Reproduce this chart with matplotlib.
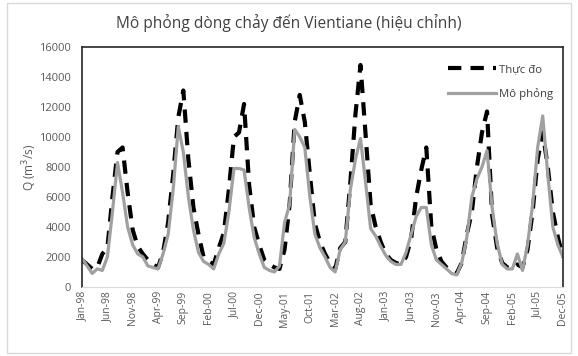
import numpy as np
import matplotlib.pyplot as plt
from matplotlib.patches import Rectangle

plt.rcParams['font.family'] = ['Open Sans', 'DejaVu Sans']

# Nhãn trục hoành (mỗi 5 tháng)
nhan_thang = ['Jan-98', 'Jun-98', 'Nov-98', 'Apr-99', 'Sep-99', 'Feb-00', 'Jul-00',
              'Dec-00', 'May-01', 'Oct-01', 'Mar-02', 'Aug-02', 'Jan-03', 'Jun-03',
              'Nov-03', 'Apr-04', 'Sep-04', 'Feb-05', 'Jul-05', 'Dec-05']

# Lưu lượng thực đo (m3/s), theo tháng 1/1998 - 12/2005
thuc_do = [1800, 1500, 1200, 1300, 2200, 2600, 6000, 9000, 9300, 6300, 3800, 2700,
           2200, 1800, 1500, 1300, 2300, 4300, 7500, 11300, 13100, 8500, 5300, 3500,
           2000, 1700, 1500, 2600, 3600, 6500, 10000, 10300, 12200, 6800, 4000, 2800,
           1800, 1500, 1300, 1200, 2500, 5500, 11000, 12800, 11000, 7500, 4200, 3000,
           2200, 1600, 1200, 2600, 3000, 7000, 11500, 14800, 10200, 5500, 4000, 3000,
           2200, 1800, 1600, 1500, 2000, 3200, 6000, 7800, 9300, 4000, 2500, 1700,
           1300, 1000, 900, 1600, 3500, 5000, 8000, 10300, 11700, 4800, 2600, 1600,
           1300, 1200, 1500, 1300, 2500, 5000, 8500, 10300, 8000, 5000, 3300, 2000]

# Lưu lượng mô phỏng (m3/s)
mo_phong = [1900, 1400, 900, 1200, 1100, 2000, 5000, 8300, 6300, 4000, 2800, 2200,
            2000, 1400, 1300, 1200, 2200, 3500, 6500, 10700, 9000, 6000, 3800, 2300,
            1700, 1500, 1200, 2200, 2900, 5000, 7900, 7900, 7800, 5300, 3300, 2200,
            1300, 1100, 1000, 1400, 4300, 5500, 10500, 10000, 9300, 6000, 3500, 2600,
            2000, 1300, 1000, 2500, 3000, 6500, 8500, 9900, 7000, 3900, 3400, 2700,
            2100, 1700, 1500, 1500, 2300, 3500, 4700, 5300, 5300, 2800, 1800, 1500,
            1200, 900, 800, 1600, 3300, 6000, 7200, 8000, 9100, 5300, 2900, 1500,
            1200, 1200, 2200, 1100, 2800, 5500, 9300, 11400, 7500, 4000, 2800, 2000]

thang = np.arange(len(thuc_do))

fig = plt.figure(figsize=(5.78, 3.56), dpi=100)
ax = fig.add_axes([0.142, 0.194, 0.832, 0.674])

ax.plot(thang, thuc_do, color='black', linewidth=3, dashes=(3.2, 2.2),
        label='Thực đo')
ax.plot(thang, mo_phong, color='#a0a0a0', linewidth=2.3, label='Mô phỏng')

ax.set_xlim(0, len(thang) - 1)
ax.set_ylim(0, 16000)
ax.set_yticks(np.arange(0, 16001, 2000))
ax.set_xticks(thang[::5])
ax.set_xticklabels(nhan_thang, rotation=90, fontsize=7.5, color='#595959')
ax.tick_params(axis='y', labelsize=8, colors='#595959', length=0, pad=8)
ax.tick_params(axis='x', length=0, pad=3)

for lado in ['left', 'top', 'right']:
    ax.spines[lado].set_color('#262626')
    ax.spines[lado].set_linewidth(1.2)
ax.spines['bottom'].set_color('#d9d9d9')

ax.set_ylabel('Q (m$^3$/s)', fontsize=8.5, color='#595959', labelpad=0)
fig.text(0.5, 0.935, 'Mô phỏng dòng chảy đến Vientiane (hiệu chỉnh)', fontsize=11.2,
         color='#404040', ha='center', va='center')

ax.legend(loc='upper right', frameon=False, fontsize=8.2, handlelength=4.2,
          handletextpad=0.2, labelspacing=1.1, labelcolor='#404040',
          bbox_to_anchor=(1.0, 0.97))

fig.patches.append(Rectangle((0.012, 0.008), 0.976, 0.984, transform=fig.transFigure,
                             fill=False, edgecolor='#d9d9d9', linewidth=1))

plt.savefig('out.png', dpi=100)
plt.close()
